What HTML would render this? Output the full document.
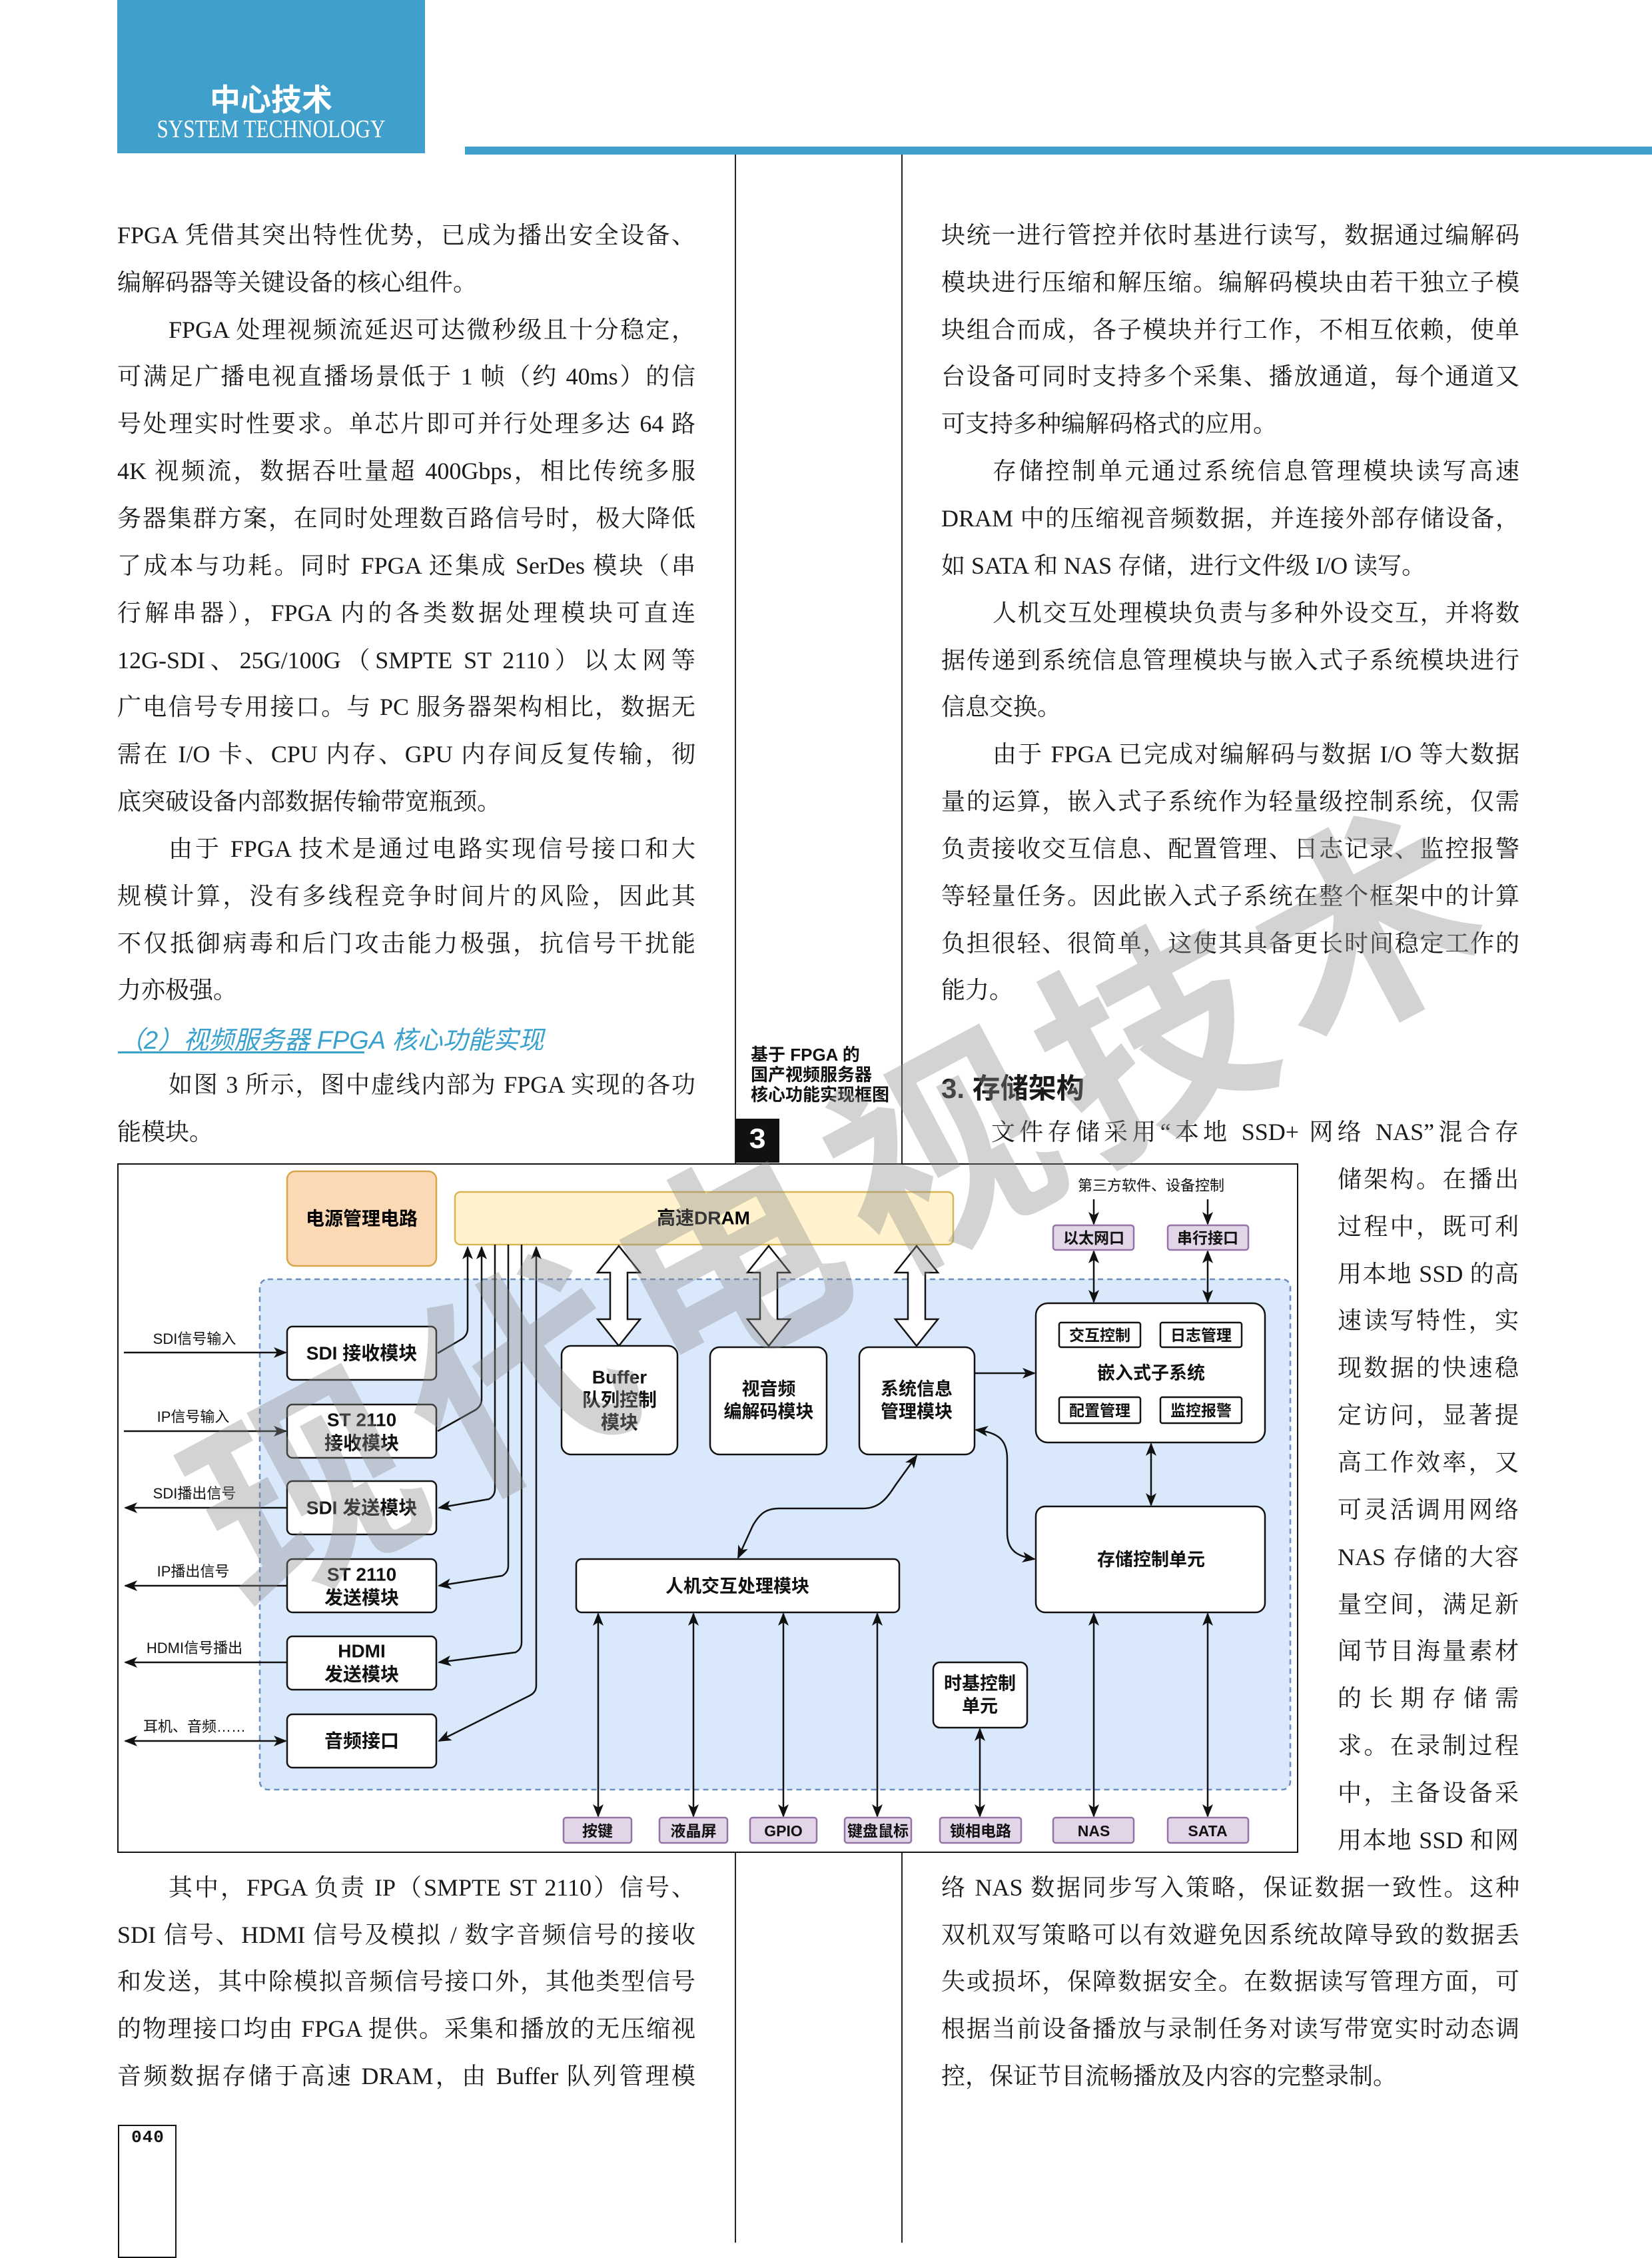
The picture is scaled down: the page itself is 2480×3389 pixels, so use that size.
<!DOCTYPE html>
<html><head><meta charset="utf-8">
<style>
html,body{margin:0;padding:0;background:#fff;}
body{width:2480px;height:3366px;position:relative;overflow:hidden;}
.l{position:absolute;height:52px;line-height:52px;font-size:36px;font-family:"Liberation Serif","Noto Serif CJK SC",serif;color:#1a1a1a;text-align:justify;text-align-last:justify;white-space:normal;overflow:hidden;margin-top:4px;}
.n{text-align-last:left;}
.L{left:176px;width:868px;}
.Li{left:253px;width:791px;}
.R{left:1413px;width:868px;}
.Ri{left:1490px;width:791px;}
.N{left:2008px;width:272px;}
.vl{position:absolute;background:#222;width:2px;}
svg text{font-family:"Liberation Sans","Noto Sans CJK SC",sans-serif;}
</style></head><body>

<!-- header -->
<div style="position:absolute;left:176px;top:0;width:462px;height:230px;background:#40a0cb;"></div>
<div style="position:absolute;left:176px;top:122px;width:462px;text-align:center;color:#fff;font:bold 46px 'Liberation Sans','Noto Sans CJK SC',sans-serif;line-height:56px;">中心技术</div>
<div style="position:absolute;left:176px;top:172px;width:462px;text-align:center;color:#fff;font:38px 'Liberation Serif',serif;line-height:44px;transform:scaleX(0.82);transform-origin:center;white-space:nowrap;">SYSTEM TECHNOLOGY</div>
<div style="position:absolute;left:698px;top:220px;width:1782px;height:12px;background:#40a0cb;"></div>

<!-- column lines -->
<div class="vl" style="left:1103px;top:232px;height:1515px;"></div>
<div class="vl" style="left:1353px;top:232px;height:1515px;"></div>
<div class="vl" style="left:1103px;top:2781px;height:585px;"></div>
<div class="vl" style="left:1353px;top:2781px;height:585px;"></div>

<!-- left column -->
<div class="l L" style="top:323px">FPGA 凭借其突出特性优势，已成为播出安全设备、</div>
<div class="l L n" style="top:394px">编解码器等关键设备的核心组件。</div>
<div class="l Li" style="top:465px">FPGA 处理视频流延迟可达微秒级且十分稳定，</div>
<div class="l L" style="top:535px">可满足广播电视直播场景低于 1 帧（约 40ms）的信</div>
<div class="l L" style="top:606px">号处理实时性要求。单芯片即可并行处理多达 64 路</div>
<div class="l L" style="top:677px">4K 视频流，数据吞吐量超 400Gbps，相比传统多服</div>
<div class="l L" style="top:748px">务器集群方案，在同时处理数百路信号时，极大降低</div>
<div class="l L" style="top:819px">了成本与功耗。同时 FPGA 还集成 SerDes 模块（串</div>
<div class="l L" style="top:890px">行解串器），FPGA 内的各类数据处理模块可直连</div>
<div class="l L" style="top:961px">12G-SDI、25G/100G（SMPTE ST 2110）以太网等</div>
<div class="l L" style="top:1031px">广电信号专用接口。与 PC 服务器架构相比，数据无</div>
<div class="l L" style="top:1102px">需在 I/O 卡、CPU 内存、GPU 内存间反复传输，彻</div>
<div class="l L n" style="top:1173px">底突破设备内部数据传输带宽瓶颈。</div>
<div class="l Li" style="top:1244px">由于 FPGA 技术是通过电路实现信号接口和大</div>
<div class="l L" style="top:1315px">规模计算，没有多线程竞争时间片的风险，因此其</div>
<div class="l L" style="top:1386px">不仅抵御病毒和后门攻击能力极强，抗信号干扰能</div>
<div class="l L n" style="top:1456px">力亦极强。</div>
<div style="position:absolute;left:178px;top:1530px;height:50px;line-height:50px;font:italic 38px 'Liberation Sans','Noto Sans CJK SC',sans-serif;color:#3aa0cc;white-space:nowrap;">（2）视频服务器 FPGA 核心功能实现</div>
<div style="position:absolute;left:177px;top:1578px;width:370px;height:3px;background:#3aa0cc;"></div>
<div class="l Li" style="top:1598px">如图 3 所示，图中虚线内部为 FPGA 实现的各功</div>
<div class="l L n" style="top:1669px">能模块。</div>
<div class="l Li" style="top:2803px">其中，FPGA 负责 IP（SMPTE ST 2110）信号、</div>
<div class="l L" style="top:2874px">SDI 信号、HDMI 信号及模拟 / 数字音频信号的接收</div>
<div class="l L" style="top:2944px">和发送，其中除模拟音频信号接口外，其他类型信号</div>
<div class="l L" style="top:3015px">的物理接口均由 FPGA 提供。采集和播放的无压缩视</div>
<div class="l L" style="top:3086px">音频数据存储于高速 DRAM，由 Buffer 队列管理模</div>

<!-- right column -->
<div class="l R" style="top:323px">块统一进行管控并依时基进行读写，数据通过编解码</div>
<div class="l R" style="top:394px">模块进行压缩和解压缩。编解码模块由若干独立子模</div>
<div class="l R" style="top:465px">块组合而成，各子模块并行工作，不相互依赖，使单</div>
<div class="l R" style="top:535px">台设备可同时支持多个采集、播放通道，每个通道又</div>
<div class="l R n" style="top:606px">可支持多种编解码格式的应用。</div>
<div class="l Ri" style="top:677px">存储控制单元通过系统信息管理模块读写高速</div>
<div class="l R" style="top:748px">DRAM 中的压缩视音频数据，并连接外部存储设备，</div>
<div class="l R n" style="top:819px">如 SATA 和 NAS 存储，进行文件级 I/O 读写。</div>
<div class="l Ri" style="top:890px">人机交互处理模块负责与多种外设交互，并将数</div>
<div class="l R" style="top:961px">据传递到系统信息管理模块与嵌入式子系统模块进行</div>
<div class="l R n" style="top:1031px">信息交换。</div>
<div class="l Ri" style="top:1102px">由于 FPGA 已完成对编解码与数据 I/O 等大数据</div>
<div class="l R" style="top:1173px">量的运算，嵌入式子系统作为轻量级控制系统，仅需</div>
<div class="l R" style="top:1244px">负责接收交互信息、配置管理、日志记录、监控报警</div>
<div class="l R" style="top:1315px">等轻量任务。因此嵌入式子系统在整个框架中的计算</div>
<div class="l R" style="top:1386px">负担很轻、很简单，这使其具备更长时间稳定工作的</div>
<div class="l R n" style="top:1456px">能力。</div>
<div style="position:absolute;left:1413px;top:1600px;height:54px;line-height:54px;font:bold 42px 'Liberation Sans','Noto Sans CJK SC',sans-serif;color:#1a1a1a;white-space:nowrap;">3. 存储架构</div>
<div class="l" style="left:1488px;width:792px;top:1669px">文件存储采用“本地 SSD+ 网络 NAS”混合存</div>
<div class="l N" style="top:1740px">储架构。在播出</div>
<div class="l N" style="top:1811px">过程中，既可利</div>
<div class="l N" style="top:1882px">用本地 SSD 的高</div>
<div class="l N" style="top:1952px">速读写特性，实</div>
<div class="l N" style="top:2023px">现数据的快速稳</div>
<div class="l N" style="top:2094px">定访问，显著提</div>
<div class="l N" style="top:2165px">高工作效率，又</div>
<div class="l N" style="top:2236px">可灵活调用网络</div>
<div class="l N" style="top:2307px">NAS 存储的大容</div>
<div class="l N" style="top:2378px">量空间，满足新</div>
<div class="l N" style="top:2448px">闻节目海量素材</div>
<div class="l N" style="top:2519px">的长期存储需</div>
<div class="l N" style="top:2590px">求。在录制过程</div>
<div class="l N" style="top:2661px">中，主备设备采</div>
<div class="l N" style="top:2732px">用本地 SSD 和网</div>
<div class="l R" style="top:2803px">络 NAS 数据同步写入策略，保证数据一致性。这种</div>
<div class="l R" style="top:2874px">双机双写策略可以有效避免因系统故障导致的数据丢</div>
<div class="l R" style="top:2944px">失或损坏，保障数据安全。在数据读写管理方面，可</div>
<div class="l R" style="top:3015px">根据当前设备播放与录制任务对读写带宽实时动态调</div>
<div class="l R n" style="top:3086px">控，保证节目流畅播放及内容的完整录制。</div>

<!-- caption -->
<div style="position:absolute;left:1127px;top:1568px;font:bold 26px 'Liberation Sans','Noto Sans CJK SC',sans-serif;line-height:30px;color:#111;white-space:nowrap;">基于 FPGA 的<br>国产视频服务器<br>核心功能实现框图</div>
<div style="position:absolute;left:1104px;top:1679px;width:66px;height:66px;background:#111;color:#fff;font:bold 44px 'Liberation Mono',monospace;line-height:66px;text-align:center;">3</div>

<!-- page number -->
<div style="position:absolute;left:177px;top:3189px;width:88px;height:200px;border:2px solid #111;box-sizing:border-box;"></div>
<div style="position:absolute;left:184px;top:3192px;width:76px;font:bold 26px 'Liberation Mono',monospace;line-height:32px;text-align:center;color:#111;letter-spacing:1px;">040</div>

<!-- diagram -->
<svg style="position:absolute;left:0;top:0" width="2480" height="3366" viewBox="0 0 2480 3366">
<defs>
<marker id="a" markerUnits="userSpaceOnUse" markerWidth="20" markerHeight="16" refX="18" refY="8" orient="auto-start-reverse">
<path d="M0,0 L20,8 L0,16 L5,8 Z" fill="#111"/></marker>
</defs>
<rect x="177" y="1747" width="1771" height="1033" fill="#fff" stroke="#111" stroke-width="2"/>
<rect x="390" y="1920" width="1547" height="766" rx="12" fill="#dae8fc" stroke="#6c8ebf" stroke-width="2.5" stroke-dasharray="8,6"/>
<rect x="431" y="1758" width="224" height="142" rx="12" fill="#fad9b4" stroke="#d7a54a" stroke-width="2.5"/>
<text x="543" y="1829" font-size="28" font-weight="bold" text-anchor="middle" dominant-baseline="central">电源管理电路</text>
<rect x="683" y="1789" width="748" height="79" rx="8" fill="#fff2cc" stroke="#d6b656" stroke-width="2.5"/>
<text x="1056" y="1828" font-size="28" font-weight="bold" text-anchor="middle" dominant-baseline="central">高速DRAM</text>

<g fill="none" stroke="#111" stroke-width="2.5">
<path d="M657,2031 L693,2010 Q702,2004 702,1994 L702,1872" marker-end="url(#a)"/>
<path d="M657,2148 L714,2116 Q723,2110 723,2100 L723,1872" marker-end="url(#a)"/>
<path d="M743,1868 L743,2235 Q743,2245 734,2250 L659,2263" marker-end="url(#a)"/>
<path d="M763,1868 L763,2350 Q763,2360 754,2365 L659,2380" marker-end="url(#a)"/>
<path d="M783,1868 L783,2465 Q783,2475 774,2480 L659,2495" marker-end="url(#a)"/>
<path d="M659,2613 L795,2545 Q805,2540 805,2530 L805,1872" marker-start="url(#a)" marker-end="url(#a)"/>
<path d="M186,2030 L429,2030" marker-end="url(#a)"/>
<path d="M186,2148 L429,2148" marker-end="url(#a)"/>
<path d="M431,2263 L188,2263" marker-end="url(#a)"/>
<path d="M431,2380 L188,2380" marker-end="url(#a)"/>
<path d="M431,2495 L188,2495" marker-end="url(#a)"/>
<path d="M188,2613 L429,2613" marker-start="url(#a)" marker-end="url(#a)"/>
<path d="M1642,1800 L1642,1837" marker-end="url(#a)"/>
<path d="M1813,1800 L1813,1837" marker-end="url(#a)"/>
<path d="M1642,1878 L1642,1954" marker-start="url(#a)" marker-end="url(#a)"/>
<path d="M1813,1878 L1813,1954" marker-start="url(#a)" marker-end="url(#a)"/>
<path d="M1463,2061 L1553,2061" marker-end="url(#a)"/>
<path d="M1728,2167 L1728,2259" marker-start="url(#a)" marker-end="url(#a)"/>
<path d="M1465,2146 C1500,2150 1512,2162 1512,2190 L1512,2300 C1512,2328 1528,2336 1553,2340" marker-start="url(#a)" marker-end="url(#a)"/>
<path d="M1376,2185 L1345,2228 C1333,2246 1322,2264 1296,2264 L1170,2264 C1150,2264 1140,2272 1130,2290 L1108,2338" marker-start="url(#a)" marker-end="url(#a)"/>
<path d="M898,2422 L898,2726" marker-start="url(#a)" marker-end="url(#a)"/>
<path d="M1041,2422 L1041,2726" marker-start="url(#a)" marker-end="url(#a)"/>
<path d="M1176,2422 L1176,2726" marker-start="url(#a)" marker-end="url(#a)"/>
<path d="M1317,2422 L1317,2726" marker-start="url(#a)" marker-end="url(#a)"/>
<path d="M1471,2595 L1471,2726" marker-start="url(#a)" marker-end="url(#a)"/>
<path d="M1642,2422 L1642,2726" marker-start="url(#a)" marker-end="url(#a)"/>
<path d="M1813,2422 L1813,2726" marker-start="url(#a)" marker-end="url(#a)"/>
</g>

<g fill="#fff" stroke="#111" stroke-width="2.5">
<path d="M929,1870 L961,1910 L942,1910 L942,1980 L961,1980 L929,2020 L897,1980 L916,1980 L916,1910 L897,1910 Z"/>
<path d="M1154,1870 L1186,1910 L1167,1910 L1167,1980 L1186,1980 L1154,2020 L1122,1980 L1141,1980 L1141,1910 L1122,1910 Z"/>
<path d="M1376,1870 L1408,1910 L1389,1910 L1389,1980 L1408,1980 L1376,2020 L1344,1980 L1363,1980 L1363,1910 L1344,1910 Z"/>
</g>

<g fill="#fff" stroke="#111" stroke-width="2.5">
<rect x="431" y="1991" width="224" height="80" rx="8"/>
<rect x="431" y="2108" width="224" height="80" rx="8"/>
<rect x="431" y="2223" width="224" height="80" rx="8"/>
<rect x="431" y="2340" width="224" height="80" rx="8"/>
<rect x="431" y="2456" width="224" height="80" rx="8"/>
<rect x="431" y="2573" width="224" height="80" rx="8"/>
<rect x="843" y="2020" width="174" height="163" rx="14"/>
<rect x="1066" y="2022" width="175" height="161" rx="14"/>
<rect x="1290" y="2022" width="173" height="161" rx="14"/>
<rect x="1555" y="1956" width="344" height="209" rx="18"/>
<rect x="1555" y="2261" width="344" height="159" rx="14"/>
<rect x="865" y="2340" width="485" height="80" rx="8"/>
<rect x="1401" y="2495" width="141" height="98" rx="10"/>
<rect x="1590" y="1985" width="122" height="37" rx="3"/>
<rect x="1742" y="1985" width="122" height="37" rx="3"/>
<rect x="1590" y="2097" width="122" height="39" rx="3"/>
<rect x="1742" y="2097" width="122" height="39" rx="3"/>
</g>
<g fill="#e1d5e7" stroke="#9673a6" stroke-width="2.5">
<rect x="1581" y="1839" width="121" height="37" rx="4"/>
<rect x="1753" y="1839" width="121" height="37" rx="4"/>
<rect x="846" y="2728" width="102" height="38" rx="4"/>
<rect x="990" y="2728" width="102" height="38" rx="4"/>
<rect x="1126" y="2728" width="100" height="38" rx="4"/>
<rect x="1268" y="2728" width="100" height="38" rx="4"/>
<rect x="1411" y="2728" width="122" height="38" rx="4"/>
<rect x="1581" y="2728" width="121" height="38" rx="4"/>
<rect x="1753" y="2728" width="121" height="38" rx="4"/>
</g>

<g font-weight="bold" text-anchor="middle" dominant-baseline="central" fill="#111">
<text x="543" y="2031" font-size="28">SDI 接收模块</text>
<text x="543" y="2131" font-size="28">ST 2110</text>
<text x="543" y="2166" font-size="28">接收模块</text>
<text x="543" y="2263" font-size="28">SDI 发送模块</text>
<text x="543" y="2363" font-size="28">ST 2110</text>
<text x="543" y="2398" font-size="28">发送模块</text>
<text x="543" y="2478" font-size="28">HDMI</text>
<text x="543" y="2513" font-size="28">发送模块</text>
<text x="543" y="2613" font-size="28">音频接口</text>
<text x="930" y="2067" font-size="28">Buffer</text>
<text x="930" y="2101" font-size="28">队列控制</text>
<text x="930" y="2135" font-size="28">模块</text>
<text x="1154" y="2085" font-size="27">视音频</text>
<text x="1154" y="2119" font-size="27">编解码模块</text>
<text x="1376" y="2085" font-size="27">系统信息</text>
<text x="1376" y="2119" font-size="27">管理模块</text>
<text x="1728" y="2061" font-size="27">嵌入式子系统</text>
<text x="1651" y="2004" font-size="23">交互控制</text>
<text x="1803" y="2004" font-size="23">日志管理</text>
<text x="1651" y="2117" font-size="23">配置管理</text>
<text x="1803" y="2117" font-size="23">监控报警</text>
<text x="1728" y="2341" font-size="27">存储控制单元</text>
<text x="1107" y="2381" font-size="27">人机交互处理模块</text>
<text x="1471" y="2527" font-size="27">时基控制</text>
<text x="1471" y="2561" font-size="27">单元</text>
<text x="1642" y="1858" font-size="23">以太网口</text>
<text x="1813" y="1858" font-size="23">串行接口</text>
<text x="897" y="2748" font-size="23">按键</text>
<text x="1041" y="2748" font-size="23">液晶屏</text>
<text x="1176" y="2748" font-size="23">GPIO</text>
<text x="1318" y="2748" font-size="23">键盘鼠标</text>
<text x="1472" y="2748" font-size="23">锁相电路</text>
<text x="1642" y="2748" font-size="23">NAS</text>
<text x="1813" y="2748" font-size="23">SATA</text>
</g>
<g font-size="22" text-anchor="middle" fill="#111">
<text x="292" y="2017">SDI信号输入</text>
<text x="290" y="2134">IP信号输入</text>
<text x="292" y="2249">SDI播出信号</text>
<text x="290" y="2366">IP播出信号</text>
<text x="292" y="2481">HDMI信号播出</text>
<text x="292" y="2599">耳机、音频……</text>
<text x="1728" y="1787">第三方软件、设备控制</text>
</g>
</svg>

<!-- watermark -->
<div style="position:absolute;left:1234px;top:1745px;width:0;height:0;">
<div style="position:absolute;left:-1150px;top:-190px;width:2300px;height:380px;line-height:380px;text-align:center;font:bold 330px 'Liberation Sans','Noto Sans CJK SC',sans-serif;color:rgba(140,140,140,0.38);letter-spacing:30px;white-space:nowrap;transform:rotate(-28deg);">现代电视技术</div>
</div>
</body></html>
